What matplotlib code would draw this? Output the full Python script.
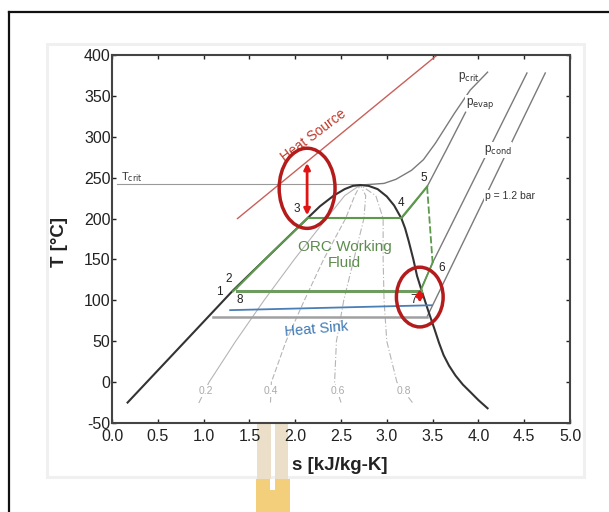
import matplotlib
matplotlib.use("Agg")
import matplotlib.pyplot as plt
from matplotlib.patches import Ellipse, Rectangle
from matplotlib.lines import Line2D

plt.rcParams['font.family'] = ['Liberation Sans', 'DejaVu Sans']

W, H = 609, 512

# saturation dome (liquid branch, critical point, vapour branch)
dome_s = [0.17, 0.8, 1.32, 1.67, 2.13, 2.27, 2.42, 2.54, 2.63, 2.71,
          2.80, 2.90, 3.00, 3.08, 3.13, 3.16, 3.20, 3.24, 3.29, 3.33,
          3.38, 3.45, 3.52, 3.57, 3.62, 3.68, 3.75, 3.83, 3.92, 4.00, 4.10]
dome_T = [-25, 50, 112, 150, 200, 215, 228, 236, 240, 241,
          240, 236, 227, 216, 206, 200, 188, 172, 150, 130,
          112, 88, 65, 48, 33, 20, 8, -3, -13, -22, -32]

# constant-quality lines
qual_T = [-25, 0, 50, 100, 150, 200, 228, 241]
q02_s = [0.95, 1.06, 1.35, 1.66, 1.99, 2.34, 2.54, 2.71]
q04_s = [1.73, 1.74, 1.90, 2.10, 2.31, 2.55, 2.65, 2.71]
q06_s = [2.50, 2.43, 2.45, 2.53, 2.64, 2.75, 2.77, 2.71]
q08_s = [3.28, 3.11, 3.00, 2.97, 2.96, 2.96, 2.88, 2.71]
qual_labels = ["0.2", "0.4", "0.6", "0.8"]
qual_label_s = [1.02, 1.73, 2.46, 3.19]

# isobars
pcrit_s = [2.71, 2.85, 2.97, 3.10, 3.27, 3.40, 3.53, 3.74, 3.91, 4.10]
pcrit_T = [241, 242, 243, 248, 259, 272, 292, 329, 357, 379]
pevap_s = [3.16, 3.30, 3.44, 3.65, 3.86]
pevap_T = [200, 219, 239, 284, 330]
pcond_s = [3.37, 3.50, 4.53]
pcond_T = [113, 146, 378]
p12_s = [3.44, 4.73]
p12_T = [80, 378]
p12_sat_s = [1.10, 3.44]
p12_sat_T = [80, 80]

T_crit = 242
tcrit_s = [0.05, 2.71]

# heat source / heat sink
source_s = [1.37, 3.55]
source_T = [200, 400]
sink_s = [1.29, 3.49]
sink_T = [88, 94]

# ORC cycle states 1..8
cyc_s = {1: 1.32, 2: 1.36, 3: 2.14, 4: 3.16, 5: 3.44, 6: 3.50, 7: 3.37, 8: 1.36}
cyc_T = {1: 111, 2: 115, 3: 201, 4: 201, 5: 239, 6: 146, 7: 112, 8: 112}
# liquid heating 2 -> 3 follows the saturated liquid line
heat_s = [1.36, 1.67, 2.14]
heat_T = [115, 150, 201]

state_labels = ["1", "2", "3", "4", "5", "6", "7", "8"]
state_lab_s = [1.17, 1.27, 2.02, 3.15, 3.40, 3.60, 3.29, 1.39]
state_lab_T = [110, 126, 212, 219, 250, 140, 100, 100]

# pinch highlights
pinch_hi = (2.13, 268, 204)   # s, upper T, lower T
pinch_lo = (3.36, 114, 97)

x_ticks = [0.0, 0.5, 1.0, 1.5, 2.0, 2.5, 3.0, 3.5, 4.0, 4.5, 5.0]
y_ticks = [-50, 0, 50, 100, 150, 200, 250, 300, 350, 400]


def fx(x):
    return x / W


def fy(y):
    return 1 - y / H


fig = plt.figure(figsize=(W / 100, H / 100), dpi=100)

# page frame
fig.add_artist(Line2D([fx(8.5), fx(8.5)], [0, fy(11.5)], transform=fig.transFigure,
                      color='#111111', lw=1.6))
fig.add_artist(Line2D([fx(8.5), 1.0], [fy(11.5), fy(11.5)], transform=fig.transFigure,
                      color='#111111', lw=1.6))
# figure panel border
fig.add_artist(Rectangle((fx(47), fy(477)), (584 - 47) / W, (477 - 44) / H,
                         transform=fig.transFigure, fill=False, ec='#f0f0f0', lw=2.2,
                         zorder=-2))
# watermark
for x0, x1 in [(257, 271), (275, 288)]:
    fig.add_artist(Rectangle((fx(x0), fy(479)), (x1 - x0) / W, (479 - 422) / H,
                             transform=fig.transFigure, fc='#ebdfca', ec='none',
                             zorder=-1))
fig.add_artist(Rectangle((fx(256), 0), (290 - 256) / W, (512 - 479) / H,
                         transform=fig.transFigure, fc='#f3cf7c', ec='none', zorder=-1))
fig.add_artist(Rectangle((fx(270), fy(490)), 5 / W, 11 / H,
                         transform=fig.transFigure, fc='white', ec='none', zorder=-1))

ax = fig.add_axes([fx(112), fy(423), (570 - 112) / W, (423 - 55) / H])
ax.set_xlim(0, 5)
ax.set_ylim(-50, 400)
ax.set_xticks(x_ticks)
ax.set_yticks(y_ticks)
ax.set_xticklabels([f"{v:.1f}" for v in x_ticks])
ax.set_yticklabels([str(v) for v in y_ticks])
ax.tick_params(direction='in', length=3, width=1, top=True, right=True,
               labelsize=11.5, colors='#222222')
ax.tick_params(axis='y', pad=1)
ax.tick_params(axis='x', pad=4)
for sp in ax.spines.values():
    sp.set_color('#444444')
    sp.set_linewidth(1.5)

# quality lines
styles = ['-', (0, (5, 2)), (0, (6, 2, 1, 2)), (0, (6, 2, 1, 2))]
for qs, ls in zip([q02_s, q04_s, q06_s, q08_s], styles):
    ax.plot(qs, qual_T, color='#b5b5b5', lw=0.8, ls=ls, zorder=1)
for lab, s in zip(qual_labels, qual_label_s):
    ax.text(s, -11, lab, color='#aaaaaa', fontsize=7.5, ha='center', va='center',
            bbox=dict(fc='white', ec='none', pad=0.8), zorder=2)

# critical temperature
ax.plot(tcrit_s, [T_crit, T_crit], color='#9a9a9a', lw=0.8, zorder=1)
ax.text(0.22, 251, r"T$_{\rm crit}$", fontsize=8, color='#333333', ha='center',
        va='center')

# isobars
iso_kw = dict(color='#7a7a7a', lw=1.0, zorder=2)
ax.plot(pcrit_s, pcrit_T, **iso_kw)
ax.plot(pevap_s, pevap_T, **iso_kw)
ax.plot(pcond_s, pcond_T, **iso_kw)
ax.plot(p12_s, p12_T, **iso_kw)
ax.plot(p12_sat_s, p12_sat_T, color='#a0a0a0', lw=1.8, zorder=2)

lab_kw = dict(fontsize=8.5, color='#333333', ha='center', va='center', zorder=4)
ax.text(3.90, 373, r"p$_{\rm crit}$", **lab_kw)
ax.text(4.02, 341, r"p$_{\rm evap}$", bbox=dict(fc='white', ec='none', pad=0.5), **lab_kw)
ax.text(4.21, 284, r"p$_{\rm cond}$", bbox=dict(fc='white', ec='none', pad=0.5), **lab_kw)
ax.text(4.07, 228, "p = 1.2 bar", fontsize=7.5, color='#333333', ha='left',
        va='center', bbox=dict(fc='white', ec='none', pad=0.5), zorder=4)

# saturation dome
ax.plot(dome_s, dome_T, color='#333333', lw=1.5, zorder=3)

# heat source and sink
ax.plot(source_s, source_T, color='#c9605a', lw=1.0, zorder=2)
ax.text(2.20, 302, "Heat Source", color='#c0392b', fontsize=10, rotation=37,
        ha='center', va='center')
ax.plot(sink_s, sink_T, color='#4a7fb5', lw=1.3, zorder=3)
ax.text(2.23, 65, "Heat Sink", color='#3d78b5', fontsize=10.5, rotation=5,
        ha='center', va='center')

# ORC cycle
g = '#5a9a4a'
ax.plot([cyc_s[1], cyc_s[2]], [cyc_T[1], cyc_T[2]], color=g, lw=1.5, zorder=4)
ax.plot(heat_s, heat_T, color=g, lw=1.5, zorder=4)
ax.plot([cyc_s[3], cyc_s[4]], [cyc_T[3], cyc_T[4]], color=g, lw=1.5, zorder=4)
ax.plot([cyc_s[4], cyc_s[5]], [cyc_T[4], cyc_T[5]], color=g, lw=1.5, zorder=4)
ax.plot([cyc_s[5], cyc_s[6]], [cyc_T[5], cyc_T[6]], color=g, lw=1.3, ls=(0, (4, 1.5)),
        zorder=4)
ax.plot([cyc_s[6], cyc_s[7]], [cyc_T[6], cyc_T[7]], color=g, lw=1.3, zorder=4)
ax.plot([cyc_s[7], cyc_s[8]], [cyc_T[7], cyc_T[8]], color='#6f9a60', lw=2.2, zorder=4)
ax.text(2.54, 165, "ORC Working", color='#5e8c4e', fontsize=11, ha='center',
        va='center')
ax.text(2.54, 146, "Fluid", color='#5e8c4e', fontsize=11, ha='center', va='center')

for lab, s, t in zip(state_labels, state_lab_s, state_lab_T):
    ax.text(s, t, lab, fontsize=8.5, color='#222222', ha='center', va='center', zorder=5)

# pinch points
ax.add_patch(Ellipse((2.13, 237), 0.61, 98, fill=False, ec='#b41c1c', lw=2.5, zorder=6))
ax.add_patch(Ellipse((3.36, 104), 0.51, 73, fill=False, ec='#b41c1c', lw=2.5, zorder=6))
for s, t_hi, t_lo in [pinch_hi, pinch_lo]:
    ax.annotate('', xy=(s, t_lo), xytext=(s, t_hi),
                arrowprops=dict(arrowstyle='<|-|>', color='#e01414', lw=2,
                                mutation_scale=9, shrinkA=0, shrinkB=0), zorder=7)

fig.text(fx(59), fy(242), "T [°C]", rotation=90, fontsize=13.5, fontweight='bold',
         ha='center', va='center', color='#222222')
fig.text(fx(340), fy(465), "s [kJ/kg-K]", fontsize=13.5, fontweight='bold',
         ha='center', va='center', color='#222222')

fig.savefig("out.png", dpi=100)
